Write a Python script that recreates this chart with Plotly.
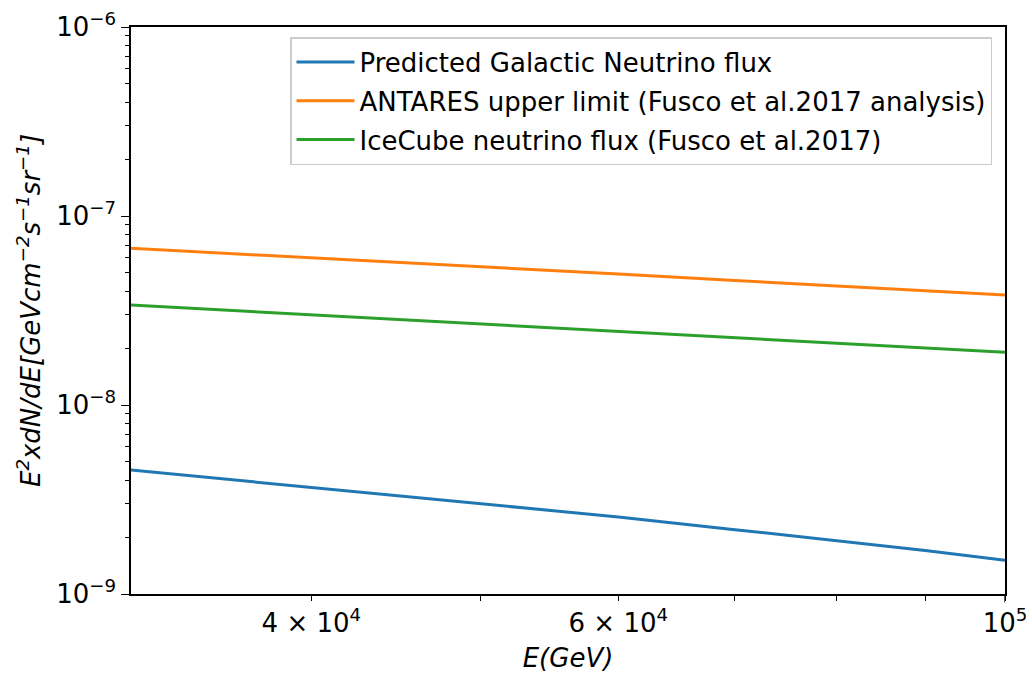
import plotly.graph_objects as go

# Energy grid (GeV)
energy = [3.15e4, 4e4, 5e4, 6e4, 7e4, 8e4, 9e4, 1e5]

# E^2 dN/dE in GeV cm^-2 s^-1 sr^-1
galactic_pred = [4.53e-9, 3.66e-9, 3.00e-9, 2.555e-9, 2.19e-9, 1.92e-9, 1.70e-9, 1.51e-9]
antares_ul = [6.75e-8, 6.02e-8, 5.39e-8, 4.93e-8, 4.56e-8, 4.27e-8, 4.02e-8, 3.82e-8]
icecube_flux = [3.38e-8, 3.00e-8, 2.69e-8, 2.46e-8, 2.28e-8, 2.13e-8, 2.01e-8, 1.90e-8]

series_names = [
    "Predicted Galactic Neutrino flux",
    "ANTARES upper limit (Fusco et al.2017 analysis)",
    "IceCube neutrino flux (Fusco et al.2017)",
]
series_colors = ["#1f77b4", "#ff7f0e", "#2ca02c"]

x_tick_vals = [4e4, 6e4, 1e5]
x_tick_text = ["4 × 10<sup>4</sup>", "6 × 10<sup>4</sup>", "10<sup>5</sup>"]
x_minor_vals = [5e4, 7e4, 8e4, 9e4]

y_tick_vals = [1e-9, 1e-8, 1e-7, 1e-6]
y_tick_text = ["10<sup>−9</sup>", "10<sup>−8</sup>", "10<sup>−7</sup>", "10<sup>−6</sup>"]
y_minor_vals = [m * 10.0 ** e for e in (-9, -8, -7) for m in range(2, 10)]

FONT = "DejaVu Sans"
FS = 26

fig = go.Figure()
for i, (name, ys, col) in enumerate(zip(series_names, [galactic_pred, antares_ul, icecube_flux], series_colors)):
    fig.add_trace(go.Scatter(
        x=energy, y=ys, mode="lines", name=name,
        line=dict(color=col, width=3),
        legendgroup=f"g{i}",
    ))

W, H = 1032, 679
L, R, T, B = 131, 27, 27, 85
PW, PH = W - L - R, H - T - B

fig.update_layout(
    width=W, height=H,
    margin=dict(l=L, r=R, t=T, b=B, autoexpand=False),
    paper_bgcolor="white", plot_bgcolor="white",
    font=dict(family=FONT, size=FS, color="black"),
    showlegend=True,
    legend=dict(
        x=(992 - L) / PW, xanchor="right",
        y=(H - B - 37) / PH, yanchor="top",
        bgcolor="white", bordercolor="#cccccc", borderwidth=1.5,
        font=dict(family=FONT, size=FS),
        itemwidth=58,
        tracegroupgap=2,
    ),
    xaxis=dict(
        type="log",
        range=[4.4986, 5.0],
        tickmode="array", tickvals=x_tick_vals, ticktext=x_tick_text,
        ticks="outside", ticklen=5, tickwidth=1.3, tickcolor="black",
        minor=dict(tickmode="array", tickvals=x_minor_vals, ticks="outside",
                   ticklen=5, tickwidth=1, tickcolor="black", showgrid=False),
        showgrid=False, zeroline=False,
        showline=True, linecolor="black", linewidth=1.5, mirror=True,
        title=dict(text="<i>E(GeV)</i>", font=dict(family=FONT, size=FS), standoff=12),
        tickfont=dict(family=FONT, size=FS),
    ),
    yaxis=dict(
        type="log",
        range=[-9, -6],
        tickmode="array", tickvals=y_tick_vals, ticktext=y_tick_text,
        ticks="outside", ticklen=8, tickwidth=1.3, tickcolor="black",
        minor=dict(tickmode="array", tickvals=y_minor_vals, ticks="outside",
                   ticklen=4.5, tickwidth=1, tickcolor="black", showgrid=False),
        showgrid=False, zeroline=False,
        showline=True, linecolor="black", linewidth=1.5, mirror=True,
        title=dict(
            text="<i>E<sup>2</sup>xdN/dE[GeVcm<sup>−2</sup>s<sup>−1</sup>sr<sup>−1</sup>]</i>",
            font=dict(family=FONT, size=FS), standoff=8,
        ),
        tickfont=dict(family=FONT, size=FS),
    ),
)

# longer major tick at the decade mark on the x axis
fig.add_shape(type="line", xref="x", yref="paper", x0=1e5, x1=1e5,
              y0=0, y1=-8.5 / PH, line=dict(color="black", width=1.3))

fig.write_html("out.html")
